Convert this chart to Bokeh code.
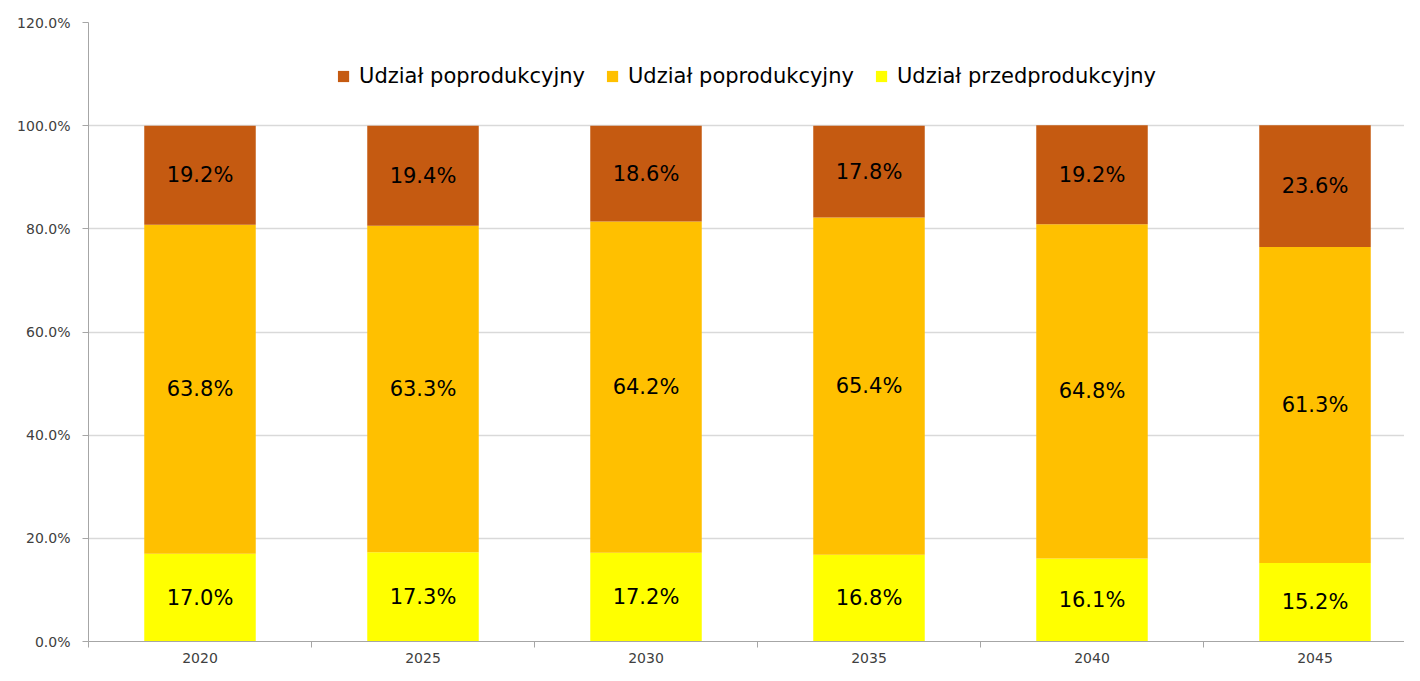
from bokeh.plotting import figure
from bokeh.models import ColumnDataSource, FixedTicker, Legend, LegendItem, Range1d, LabelSet
from bokeh.embed import file_html
from bokeh.resources import INLINE
from bokeh.core.properties import value

years = ["2020", "2025", "2030", "2035", "2040", "2045"]
pre = [17.0, 17.3, 17.2, 16.8, 16.1, 15.2]
mid = [63.8, 63.3, 64.2, 65.4, 64.8, 61.3]
post = [19.2, 19.4, 18.6, 17.8, 19.2, 23.6]
y_ticks = [0, 20, 40, 60, 80, 100, 120]
legend_labels = ["Udział poprodukcyjny", "Udział poprodukcyjny", "Udział przedprodukcyjny"]

colors = ["#C55A11", "#FFC000", "#FFFF00"]

xs = [i + 0.5 for i in range(len(years))]
t1 = pre
b2 = list(pre)
t2 = [a + b for a, b in zip(pre, mid)]
b3 = t2
t3 = [a + b + c for a, b, c in zip(pre, mid, post)]

src = ColumnDataSource(dict(
    x=xs, b1=[0]*len(xs), t1=t1, b2=b2, t2=t2, b3=b3, t3=t3,
    c1=[a/2 for a in t1], c2=[(a+b)/2 for a, b in zip(b2, t2)], c3=[(a+b)/2 for a, b in zip(b3, t3)],
    l1=[f"{v:.1f}%" for v in pre], l2=[f"{v:.1f}%" for v in mid], l3=[f"{v:.1f}%" for v in post],
))

p = figure(width=1404, height=665, output_backend="svg", toolbar_location=None,
           x_range=Range1d(0, 1316/223), y_range=Range1d(0, 120),
           min_border_left=88, min_border_right=0, min_border_top=22, min_border_bottom=20)
p.outline_line_color = None

r1 = p.vbar(x="x", bottom="b1", top="t1", width=0.5, source=src, fill_color=colors[2], line_color=None)
r2 = p.vbar(x="x", bottom="b2", top="t2", width=0.5, source=src, fill_color=colors[1], line_color=None)
r3 = p.vbar(x="x", bottom="b3", top="t3", width=0.5, source=src, fill_color=colors[0], line_color=None)

for col, lab in [("c1", "l1"), ("c2", "l2"), ("c3", "l3")]:
    p.add_layout(LabelSet(x="x", y=col, text=lab, source=src, text_align="center", text_baseline="middle",
                          text_font=value("DejaVu Sans"), text_font_size="21px", text_color="#000000"))

p.xaxis.ticker = FixedTicker(ticks=xs, minor_ticks=list(range(0, 7)))
p.xaxis.major_label_overrides = {x: y for x, y in zip(xs, years)}
p.xaxis.major_tick_line_color = None
p.xaxis.major_tick_out = 0
p.xaxis.minor_tick_out = 6
p.xaxis.minor_tick_in = 0
p.xaxis.minor_tick_line_color = "#a6a6a6"
p.xaxis.axis_line_color = "#a6a6a6"
p.xaxis.major_label_text_font = "DejaVu Sans"
p.xaxis.major_label_text_font_size = "14px"
p.xaxis.major_label_text_color = "#404040"
p.xaxis.major_label_standoff = 5

p.yaxis.ticker = FixedTicker(ticks=y_ticks, minor_ticks=[])
p.yaxis.major_label_overrides = {t: f"{t:.1f}%" for t in y_ticks}
p.yaxis.axis_line_color = "#a6a6a6"
p.yaxis.major_tick_line_color = "#a6a6a6"
p.yaxis.major_tick_out = 6
p.yaxis.major_tick_in = 0
p.yaxis.major_label_text_font = "DejaVu Sans"
p.yaxis.major_label_text_font_size = "14px"
p.yaxis.major_label_text_color = "#404040"
p.yaxis.major_label_standoff = 12

p.xgrid.grid_line_color = None
p.ygrid.grid_line_color = "#d9d9d9"
p.ygrid.grid_line_width = 1.5

legend = Legend(items=[
    LegendItem(label=legend_labels[0], renderers=[r3]),
    LegendItem(label=legend_labels[1], renderers=[r2]),
    LegendItem(label=legend_labels[2], renderers=[r1]),
], orientation="horizontal", location="top_center", border_line_color=None,
    background_fill_alpha=0, padding=0, margin=42, spacing=20,
    label_text_font="DejaVu Sans", label_text_font_size="21px", label_text_color="#000000",
    glyph_width=14, glyph_height=14, label_standoff=9, label_height=20)
p.add_layout(legend)

open("out.html", "w").write(file_html(p, INLINE))
